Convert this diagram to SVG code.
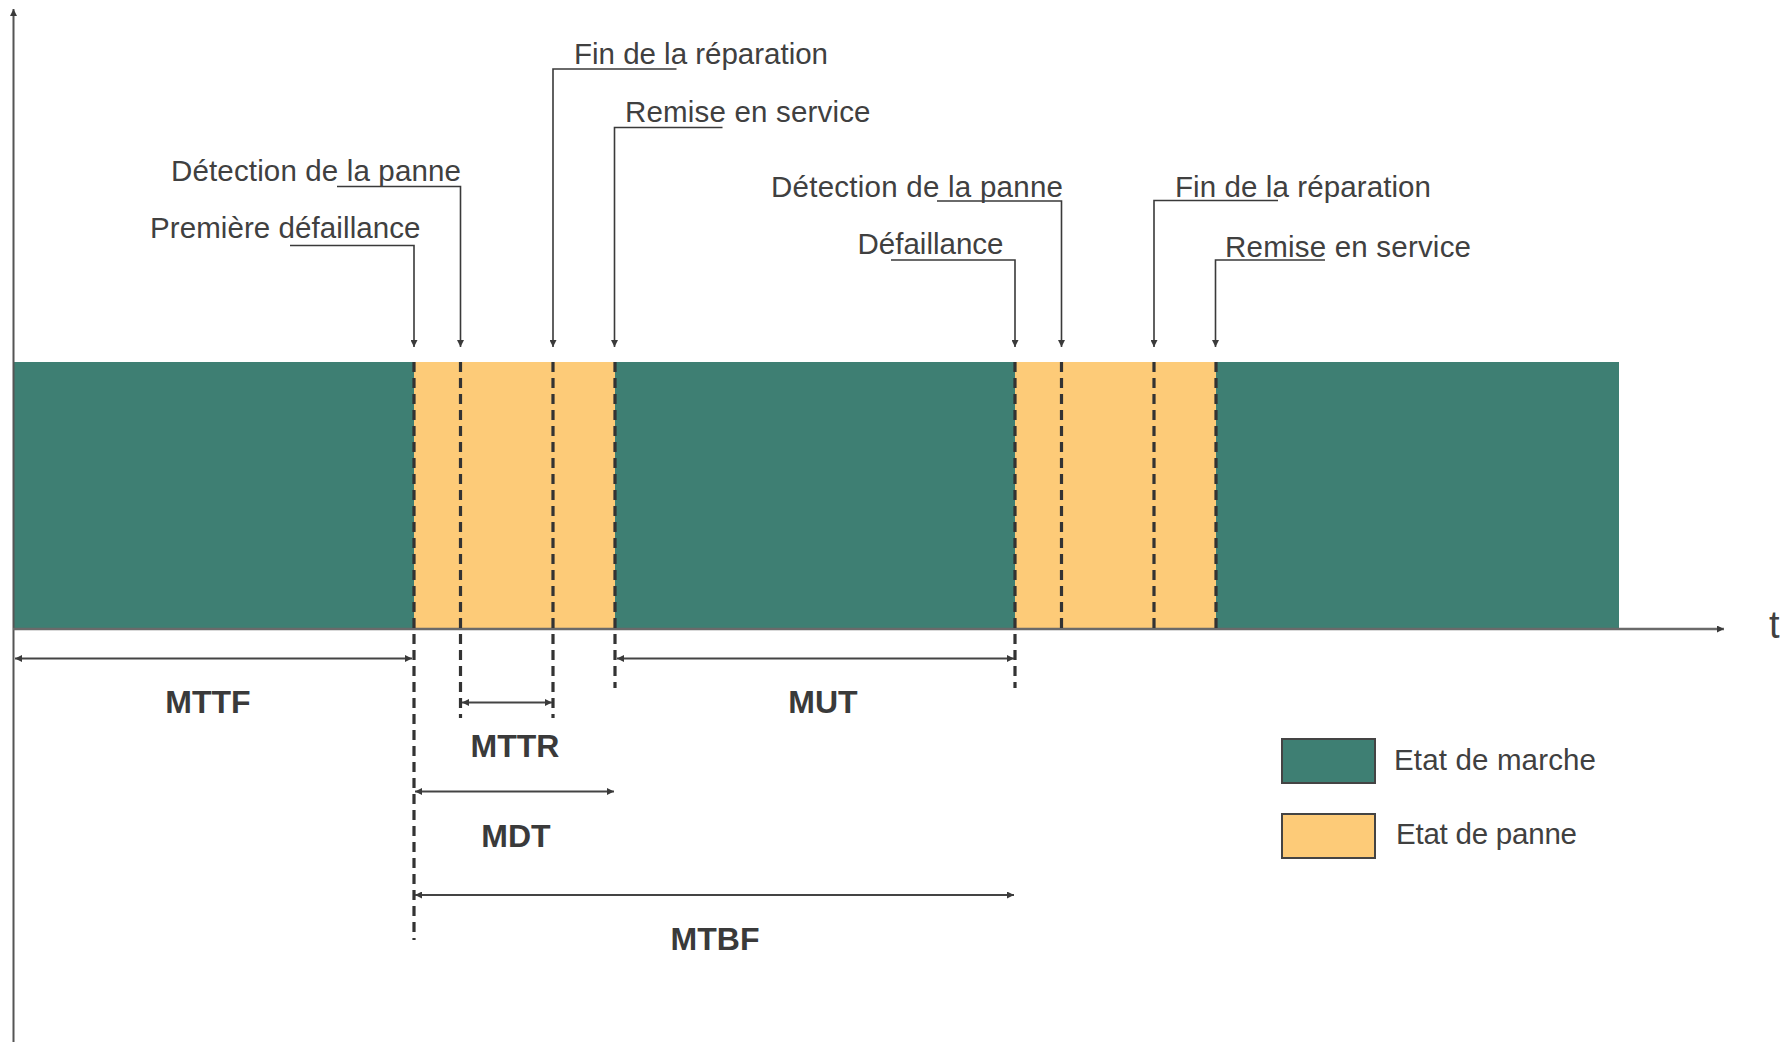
<svg xmlns="http://www.w3.org/2000/svg" width="1788" height="1042" viewBox="0 0 1788 1042">
<defs>
<marker id="ah" viewBox="0 0 10 10" refX="10" refY="5" markerWidth="8" markerHeight="7" markerUnits="userSpaceOnUse" orient="auto-start-reverse">
<path d="M0,0 L10,5 L0,10 z" fill="#3a3a3a"/>
</marker>
<marker id="ahs" viewBox="0 0 10 10" refX="10" refY="5" markerWidth="9" markerHeight="7" markerUnits="userSpaceOnUse" orient="auto-start-reverse">
<path d="M0,0 L10,5 L0,10 z" fill="#3a3a3a"/>
</marker>
<style>
.lbl{font-family:"Liberation Sans",Arial,sans-serif;font-size:29.5px;fill:#404040}
.dim{font-family:"Liberation Sans",Arial,sans-serif;font-size:32px;font-weight:bold;fill:#3a3a3a;text-anchor:middle}
.lead{fill:none;stroke:#3a3a3a;stroke-width:1.6}
.dash{stroke:#333;stroke-width:3.2;stroke-dasharray:10 6;fill:none}
.darr{stroke:#444;stroke-width:2;fill:none}
.up{fill:#3e7f73}
.down{fill:#fdcb78}
</style>
</defs>
<rect width="1788" height="1042" fill="#fff"/>

<g id="bar">
<rect class="up" x="14" y="362" width="400" height="267"/>
<rect class="down" x="414" y="362" width="201" height="267"/>
<rect class="up" x="615" y="362" width="400" height="267"/>
<rect class="down" x="1015" y="362" width="201" height="267"/>
<rect class="up" x="1216" y="362" width="403" height="267"/>
</g>

<g id="axes">
<line x1="13.5" y1="1042" x2="13.5" y2="9" stroke="#555" stroke-width="2" marker-end="url(#ahs)"/>
<line x1="13" y1="629" x2="1724" y2="629" stroke="#6a6a6a" stroke-width="2.5" marker-end="url(#ahs)"/>
<text x="1769" y="638" style="font-family:'Liberation Sans',Arial,sans-serif;font-size:38px;fill:#404040">t</text>
</g>

<g id="dashes">
<line class="dash" x1="414" y1="362" x2="414" y2="940"/>
<line class="dash" x1="460.5" y1="362" x2="460.5" y2="718"/>
<line class="dash" x1="553" y1="362" x2="553" y2="718"/>
<line class="dash" x1="615" y1="362" x2="615" y2="688"/>
<line class="dash" x1="1015" y1="362" x2="1015" y2="688"/>
<line class="dash" x1="1061.5" y1="362" x2="1061.5" y2="629"/>
<line class="dash" x1="1154" y1="362" x2="1154" y2="629"/>
<line class="dash" x1="1216" y1="362" x2="1216" y2="629"/>
</g>

<g id="connectors">
<path class="lead" d="M290,245.5 H414 V347" marker-end="url(#ah)"/>
<path class="lead" d="M337,186.5 H460.5 V347" marker-end="url(#ah)"/>
<path class="lead" d="M676.5,69 H553 V347" marker-end="url(#ah)"/>
<path class="lead" d="M722.5,127.5 H614.5 V347" marker-end="url(#ah)"/>
<path class="lead" d="M891,260 H1015 V347" marker-end="url(#ah)"/>
<path class="lead" d="M937,201 H1061.5 V347" marker-end="url(#ah)"/>
<path class="lead" d="M1278,200.5 H1154 V347" marker-end="url(#ah)"/>
<path class="lead" d="M1325,260 H1215.5 V347" marker-end="url(#ah)"/>
<line class="darr" x1="15" y1="658.5" x2="412" y2="658.5" marker-start="url(#ah)" marker-end="url(#ah)"/>
<line class="darr" x1="617" y1="658.5" x2="1014" y2="658.5" marker-start="url(#ah)" marker-end="url(#ah)"/>
<line class="darr" x1="462" y1="702.5" x2="552" y2="702.5" marker-start="url(#ah)" marker-end="url(#ah)"/>
<line class="darr" x1="415" y1="791.5" x2="614" y2="791.5" marker-start="url(#ah)" marker-end="url(#ah)"/>
<line class="darr" x1="415" y1="895" x2="1014" y2="895" marker-start="url(#ah)" marker-end="url(#ah)"/>
</g>

<g id="event-labels">
<text class="lbl" x="171" y="180.7" textLength="290">Détection de la panne</text>
<text class="lbl" x="150" y="238.3" textLength="270.5">Première défaillance</text>
<text class="lbl" x="574" y="64.3" textLength="254">Fin de la réparation</text>
<text class="lbl" x="625" y="121.7" textLength="245.5">Remise en service</text>
<text class="lbl" x="771" y="196.5" textLength="292">Détection de la panne</text>
<text class="lbl" x="857.5" y="254.3" textLength="146">Défaillance</text>
<text class="lbl" x="1175" y="196.5" textLength="256">Fin de la réparation</text>
<text class="lbl" x="1225" y="256.5" textLength="246">Remise en service</text>
</g>

<g id="dimension-labels">
<text class="dim" x="208" y="713">MTTF</text>
<text class="dim" x="823" y="713">MUT</text>
<text class="dim" x="515" y="756.5">MTTR</text>
<text class="dim" x="516" y="846.5">MDT</text>
<text class="dim" x="715" y="950">MTBF</text>
</g>

<g id="legend-marche">
<rect x="1282" y="739" width="93" height="44" fill="#3e7f73" stroke="#444" stroke-width="2"/>
<text class="lbl" x="1394" y="770" textLength="202">Etat de marche</text>
</g>
<g id="legend-panne">
<rect x="1282" y="814" width="93" height="44" fill="#fdcb78" stroke="#444" stroke-width="2"/>
<text class="lbl" x="1396" y="844" textLength="181">Etat de panne</text>
</g>
</svg>
